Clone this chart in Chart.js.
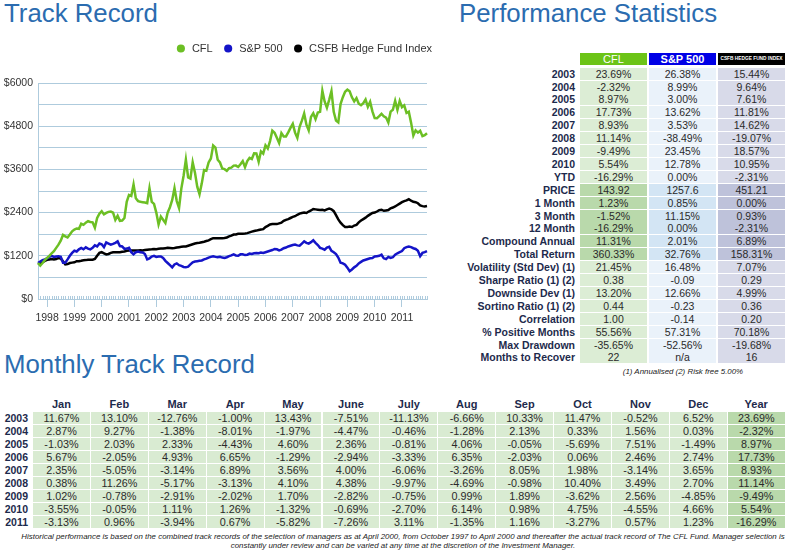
<!DOCTYPE html>
<html>
<head>
<meta charset="utf-8">
<script src="https://cdn.jsdelivr.net/npm/chart.js@4.4.0/dist/chart.umd.min.js"></script>
<style>
  body { margin: 0; width: 786px; height: 553px; background: #fff; position: relative; overflow: hidden;
         font-family: Arial, "Liberation Sans", sans-serif; }
  .title { position: absolute; font-size: 25.8px; line-height: 26px; color: #2b6cb0; white-space: nowrap; }
  #chartBox { position: absolute; left: 0; top: 30px; width: 440px; height: 300px; }
  .cell { position: absolute; white-space: nowrap; text-align: center; color: #2a2a2a; font-size: 10.5px; }
  .lab { position: absolute; white-space: nowrap; text-align: right; color: #1d2a4c; font-weight: bold; font-size: 10.5px; }
  .note { position: absolute; white-space: nowrap; font-size: 7.9px; line-height: 10px; height: 10px; font-style: italic; color: #222; text-align: center; }
</style>
</head>
<body>
<div class="title" style="left:4px;top:0px">Track Record</div>
<div class="title" style="left:459px;top:0px">Performance Statistics</div>
<div class="title" style="left:4px;top:351px">Monthly Track Record</div>
<div id="chartBox"><canvas id="trackChart" width="440" height="300"></canvas></div>
<div id="stats"></div>
<div id="monthly"></div>
<div class="note" style="left:583px;top:367px;width:200px">(1) Annualised (2) Risk free 5.00%</div>
<div class="note" style="left:0;top:532px;width:806px">Historical performance is based on the combined track records of the selection of managers as at April 2000, from October 1997 to April 2000 and thereafter the actual track record of The CFL Fund. Manager selection is</div>
<div class="note" style="left:0;top:541px;width:806px">constantly under review and can be varied at any time at the discretion of the Investment Manager.</div>

<script>
// ---- chart data (monthly, Sep 1997 = 1000) ----
const tickYears = ['1997', '1998', '1999', '2000', '2001', '2002', '2003', '2004', '2005', '2006', '2007', '2008', '2009', '2010', '2011'];
const monthNames = ['Jan', 'Feb', 'Mar', 'Apr', 'May', 'Jun', 'Jul', 'Aug', 'Sep', 'Oct', 'Nov', 'Dec'];
const seriesNames = ['CFL', 'S&P 500', 'CSFB Hedge Fund Index'];

const cflValues = [
  1000, 930, 1000, 1080, 1140, 1200, 1270, 1330, 1420, 1510,
  1620, 1780, 1740, 1710, 1790, 1880, 1930, 1960, 1950, 2090,
  2060, 2120, 2160, 2140, 2130, 1980, 2250, 2370, 2440, 2350,
  2390, 2420, 2430, 2400, 2200, 2310, 2170, 2180, 2250, 2700,
  2890, 2860, 3180, 2800, 2720, 2700, 2690, 2680, 2660, 3080,
  2700, 2640, 2400, 2070, 2290, 2200, 2110, 2400, 2550, 2750,
  3080, 2720, 2530, 3067,
  3425, 3874, 3379, 3346, 3795, 3510, 3119, 2911, 3212, 3581, 3562, 3794,
  3903, 4265, 4206, 3869, 3793, 3623, 3607, 3561, 3636, 3648, 3705, 3706,
  3668, 3743, 3830, 3660, 3829, 3919, 3887, 4045, 4043, 3813, 4099, 4038,
  4267, 4180, 4386, 4677, 4617, 4481, 4332, 4607, 4514, 4516, 4628, 4754,
  4866, 4620, 4475, 4784, 4954, 5152, 4840, 4682, 5059, 5159, 4997, 5180,
  5199, 5785, 5486, 5314, 5532, 5774, 5198, 4955, 4906, 5416, 5605, 5757,
  5815, 5770, 5602, 5489, 5582, 5425, 5384, 5437, 5540, 5340, 5476, 5211,
  5026, 5023, 5079, 5143, 5075, 5040, 4904, 5205, 5256, 5506, 5255, 5500,
  5328, 5379, 5167, 5202, 4899, 4543, 4685, 4622, 4675, 4522, 4548, 4604
];
const spValues = [
  1000, 1040, 1080, 1100, 1130, 1170, 1200, 1170, 1180, 1190,
  1170, 1010, 1010, 1100, 1200, 1280, 1340, 1320, 1380, 1420,
  1380, 1435, 1400, 1380, 1420, 1490, 1460, 1540, 1520, 1440,
  1570, 1540, 1510, 1530, 1560, 1600, 1470, 1460, 1390, 1400,
  1420, 1300, 1240, 1300, 1320, 1300, 1290, 1250, 1100, 1130,
  1180, 1200, 1170, 1180, 1180, 1140, 1060, 1000, 940, 880,
  960, 990, 940, 920, 890, 880, 900, 960, 1020, 1040,
  1050, 1060, 1070, 1100, 1120, 1150, 1170, 1185, 1170, 1160,
  1170, 1150, 1140, 1160, 1190, 1210, 1240, 1210, 1200, 1240,
  1240, 1220, 1230, 1260, 1250, 1270, 1280, 1270, 1290, 1280,
  1300, 1320, 1340, 1360, 1390, 1380, 1350, 1370, 1410, 1430,
  1460, 1480, 1500, 1510, 1490, 1480, 1540, 1600, 1560, 1540,
  1580, 1630, 1560, 1500, 1420, 1400, 1370, 1430, 1450, 1340,
  1300, 1250, 1150, 1010, 990, 950, 870, 770, 820, 880,
  920, 990, 1030, 1070, 1090, 1110, 1130, 1140, 1180, 1190,
  1200, 1230, 1130, 1110, 1170, 1140, 1160, 1230, 1270, 1300,
  1330, 1410, 1440, 1460, 1440, 1410, 1390, 1340, 1190, 1280,
  1300, 1328
];
const csfbValues = [
  1000, 975, 1020, 1060, 1090, 1100, 1110, 1095, 1110, 1140,
  1120, 1050, 960, 970, 1000, 1010, 1020, 1050, 1050, 1060,
  1075, 1080, 1090, 1090, 1090, 1110, 1200, 1280, 1300, 1270,
  1240, 1250, 1280, 1300, 1300, 1300, 1300, 1310, 1320, 1340,
  1350, 1350, 1345, 1350, 1350, 1355, 1350, 1360, 1370, 1375,
  1380, 1390, 1385, 1395, 1400, 1400, 1410, 1420, 1415, 1410,
  1415, 1430, 1440, 1450, 1455, 1460, 1480, 1500, 1520, 1540,
  1555, 1560, 1575, 1590, 1610, 1630, 1660, 1690, 1690, 1685,
  1690, 1690, 1695, 1710, 1740, 1760, 1790, 1790, 1810, 1815,
  1815, 1820, 1830, 1850, 1870, 1890, 1900, 1915, 1930, 1940,
  2000, 2030, 2070, 2080, 2080, 2080, 2100, 2120, 2170, 2200,
  2220, 2250, 2280, 2300, 2340, 2370, 2390, 2400, 2390, 2430,
  2460, 2500, 2490, 2480, 2470, 2480, 2460, 2490, 2510, 2490,
  2440, 2330, 2210, 2120, 2050, 2000, 2000, 2010, 2000, 2040,
  2060, 2130, 2180, 2220, 2260, 2310, 2350, 2390, 2400, 2430,
  2470, 2480, 2450, 2460, 2470, 2520, 2540, 2570, 2610, 2650,
  2690, 2720, 2740, 2770, 2730, 2700, 2690, 2660, 2600, 2580,
  2570, 2583
];

// ---- performance statistics ----
const statLabels = ['2003', '2004', '2005', '2006', '2007', '2008', '2009', '2010', 'YTD', 'PRICE', '1 Month', '3 Month',
  '12 Month', 'Compound Annual', 'Total Return', 'Volatility (Std Dev) (1)', 'Sharpe Ratio (1) (2)', 'Downside Dev (1)',
  'Sortino Ratio (1) (2)', 'Correlation', '% Positive Months', 'Max Drawdown', 'Months to Recover'];
const statCFL = ['23.69%', '-2.32%', '8.97%', '17.73%', '8.93%', '11.14%', '-9.49%', '5.54%', '-16.29%', '143.92', '1.23%',
  '-1.52%', '-16.29%', '11.31%', '360.33%', '21.45%', '0.38', '13.20%', '0.44', '1.00', '55.56%', '-35.65%', '22'];
const statSP = ['26.38%', '8.99%', '3.00%', '13.62%', '3.53%', '-38.49%', '23.45%', '12.78%', '0.00%', '1257.6', '0.85%',
  '11.15%', '0.00%', '2.01%', '32.76%', '16.48%', '-0.09', '12.66%', '-0.23', '-0.14', '57.31%', '-52.56%', 'n/a'];
const statCSFB = ['15.44%', '9.64%', '7.61%', '11.81%', '14.62%', '-19.07%', '18.57%', '10.95%', '-2.31%', '451.21', '0.00%',
  '0.93%', '-2.31%', '6.89%', '158.31%', '7.07%', '0.29', '4.99%', '0.36', '0.20', '70.18%', '-19.68%', '16'];

// ---- monthly track record (CFL, %) ----
const monthHeads = ['Jan', 'Feb', 'Mar', 'Apr', 'May', 'June', 'July', 'Aug', 'Sep', 'Oct', 'Nov', 'Dec', 'Year'];
const recordYears = ['2003', '2004', '2005', '2006', '2007', '2008', '2009', '2010', '2011'];
const r2003 = [11.67, 13.10, -12.76, -1.00, 13.43, -7.51, -11.13, -6.66, 10.33, 11.47, -0.52, 6.52, 23.69];
const r2004 = [2.87, 9.27, -1.38, -8.01, -1.97, -4.47, -0.46, -1.28, 2.13, 0.33, 1.56, 0.03, -2.32];
const r2005 = [-1.03, 2.03, 2.33, -4.43, 4.60, 2.36, -0.81, 4.06, -0.05, -5.69, 7.51, -1.49, 8.97];
const r2006 = [5.67, -2.05, 4.93, 6.65, -1.29, -2.94, -3.33, 6.35, -2.03, 0.06, 2.46, 2.74, 17.73];
const r2007 = [2.35, -5.05, -3.14, 6.89, 3.56, 4.00, -6.06, -3.26, 8.05, 1.98, -3.14, 3.65, 8.93];
const r2008 = [0.38, 11.26, -5.17, -3.13, 4.10, 4.38, -9.97, -4.69, -0.98, 10.40, 3.49, 2.70, 11.14];
const r2009 = [1.02, -0.78, -2.91, -2.02, 1.70, -2.82, -0.75, 0.99, 1.89, -3.62, 2.56, -4.85, -9.49];
const r2010 = [-3.55, -0.05, 1.11, 1.26, -1.32, -0.69, -2.70, 6.14, 0.98, 4.75, -4.55, 4.66, 5.54];
const r2011 = [-3.13, 0.96, -3.94, 0.67, -5.82, -7.26, 3.11, -1.35, 1.16, -3.27, 0.57, 1.23, -16.29];
const monthlyRows = [r2003, r2004, r2005, r2006, r2007, r2008, r2009, r2010, r2011];

// month labels Sep 1997 .. Dec 2011
const monthLabels = [];
tickYears.forEach(function (y) {
  monthNames.forEach(function (m, k) {
    if (y === '1997' && k < 8) return;
    monthLabels.push(m + ' ' + y);
  });
});

const gridBlue = '#aecbdd';
Chart.defaults.font.family = 'Arial, "Liberation Sans", sans-serif';

// legend: extra room below it, and nudged to the right edge
const legendSpacer = {
  id: 'legendSpacer',
  beforeInit(chart) {
    const fit = chart.legend.fit;
    chart.legend.fit = function () {
      fit.bind(chart.legend)();
      this.height += 19;
    };
  },
  afterLayout(chart) {
    chart.legend.left += 15;
    chart.legend.right += 15;
  }
};

// small month ticks along the base line
const minorTicks = {
  id: 'minorTicks',
  beforeDatasetsDraw(chart) {
    const xs = chart.scales.x, c = chart.ctx, b = chart.chartArea.bottom;
    c.save();
    c.strokeStyle = gridBlue;
    c.lineWidth = 1;
    c.beginPath();
    for (let i = 0; i < monthLabels.length; i++) {
      const px = Math.round(xs.getPixelForValue(i)) + 0.5;
      c.moveTo(px, b - 3);
      c.lineTo(px, b);
    }
    c.stroke();
    c.restore();
  }
};

function lineSet(name, values, color) {
  return {
    label: name, data: values, borderColor: color, backgroundColor: color,
    borderWidth: 2.5, pointRadius: 0, tension: 0
  };
}

new Chart(document.getElementById('trackChart').getContext('2d'), {
  type: 'line',
  data: {
    labels: monthLabels,
    datasets: [
      lineSet(seriesNames[0], cflValues, '#6cbf24'),
      lineSet(seriesNames[1], spValues, '#1414c8'),
      lineSet(seriesNames[2], csfbValues, '#000000')
    ]
  },
  options: {
    responsive: false,
    animation: false,
    layout: { padding: { top: 3, right: 13, left: 0, bottom: 0 } },
    plugins: {
      legend: {
        align: 'end',
        labels: { usePointStyle: true, boxHeight: 4, boxWidth: 11, padding: 10, color: '#333', font: { size: 11 } }
      },
      tooltip: { enabled: false }
    },
    scales: {
      x: {
        afterFit(s) { s.height = 31; },
        grid: {
          drawOnChartArea: false,
          tickLength: 8,
          color: function (c) { return monthLabels[c.index] && monthLabels[c.index].startsWith('Jan') ? gridBlue : 'rgba(0,0,0,0)'; }
        },
        border: { color: gridBlue },
        ticks: {
          autoSkip: false, maxRotation: 0, minRotation: 0, padding: 5,
          color: '#333', font: { size: 10.5 },
          callback: function (v, i) { return monthLabels[i].startsWith('Jan') ? monthLabels[i].slice(4) : ''; }
        }
      },
      y: {
        min: 0, max: 6000,
        afterFit(s) { s.width = 38; },
        grid: { color: gridBlue, drawTicks: false },
        border: { color: gridBlue },
        ticks: {
          stepSize: 600, padding: 5, color: '#333', font: { size: 10.5 },
          callback: function (v) { return v % 1200 === 0 ? '$' + v : ''; }
        }
      }
    }
  },
  plugins: [legendSpacer, minorTicks]
});

// ---- tables ----
function put(parent, cls, text, l, t, w, h, extra) {
  const d = document.createElement('div');
  d.className = cls;
  d.textContent = text;
  d.style.left = l + 'px';
  d.style.top = t + 'px';
  d.style.width = w + 'px';
  d.style.height = h + 'px';
  d.style.lineHeight = h + 'px';
  if (extra) Object.assign(d.style, extra);
  parent.appendChild(d);
  return d;
}

const stats = document.getElementById('stats');
const colLeft = [580, 649, 718];
const headStyle = [
  { background: '#6cc417', color: '#fff', fontSize: '11px' },
  { background: '#0000e6', color: '#fff', fontSize: '11px', fontWeight: 'bold' },
  { background: '#000', color: '#fff', fontSize: '4.8px', fontWeight: 'bold' }
];
const headText = ['CFL', 'S&P 500', 'CSFB HEDGE FUND INDEX'];
headText.forEach(function (t, c) { put(stats, 'cell', t, colLeft[c], 53, 67, 12, headStyle[c]); });
const lightBg = ['#dcedd5', '#eaf2fa', '#d8dae9'];
const darkBg = ['#b9d9ab', '#d3e5f4', '#bec2da'];
[statCFL, statSP, statCSFB].forEach(function (col, c) {
  col.forEach(function (v, r) {
    const bg = (r >= 9 && r <= 14) ? darkBg[c] : lightBg[c];
    put(stats, 'cell', v, colLeft[c], 67.6 + r * 12.9, 67, 12, { background: bg });
  });
});
statLabels.forEach(function (t, r) { put(stats, 'lab', t, 440, 67.6 + r * 12.9, 135, 12); });

const monthly = document.getElementById('monthly');
const mLeft = 33, mW = 57.9, mTop = 411.8, mPitch = 13.05;
monthHeads.forEach(function (t, c) {
  put(monthly, 'cell', t, mLeft + c * mW, 398, mW - 1, 13, { fontWeight: 'bold', color: '#1d2a4c', fontSize: '11px' });
});
monthlyRows.forEach(function (row, r) {
  put(monthly, 'lab', recordYears[r], 0, mTop + r * mPitch, 28, 12);
  row.forEach(function (v, c) {
    put(monthly, 'cell', v.toFixed(2) + '%', mLeft + c * mW, mTop + r * mPitch, mW - 1, 12,
      { background: c === 12 ? '#b9d9ab' : '#d9ebd2', fontSize: '10.8px' });
  });
});
</script>
</body>
</html>
